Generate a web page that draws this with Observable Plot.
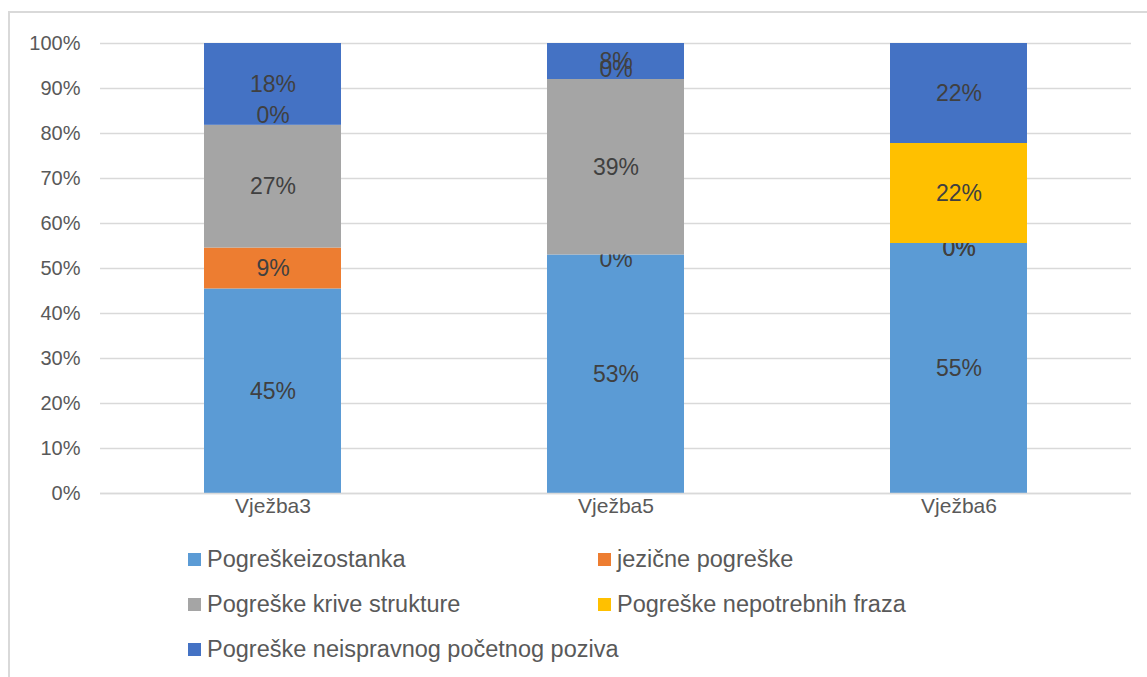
<!DOCTYPE html>
<html>
<head>
<meta charset="utf-8">
<script src="https://cdn.jsdelivr.net/npm/d3@7"></script>
<script src="https://cdn.jsdelivr.net/npm/@observablehq/plot@0.6"></script>
<style>
  html, body { margin: 0; padding: 0; background: #fff; }
  #wrap { position: relative; width: 1147px; height: 677px; overflow: hidden; font-family: "Liberation Sans", Arial, sans-serif; }
  #frame { position: absolute; left: 8px; top: 11px; width: 1200px; height: 800px; border-left: 2px solid #d9d9d9; border-top: 2px solid #d9d9d9; }
  #chart { position: absolute; left: 0; top: 0; }
  #legend { position: absolute; left: 188px; top: 537px; display: grid; grid-template-columns: 410px auto; grid-auto-rows: 45px; align-items: center; font-size: 23.5px; color: #595959; }
  .item { display: flex; align-items: center; white-space: nowrap; }
  .sw { width: 13px; height: 13px; margin-right: 6px; flex: none; }
</style>
</head>
<body>
<div id="wrap">
  <div id="frame"></div>
  <div id="chart"></div>
  <div id="legend"></div>
</div>
<script>
const exercises = ["Vježba3", "Vježba5", "Vježba6"];
const seriesNames = [
  "Pogreškeizostanka",
  "jezične pogreške",
  "Pogreške krive strukture",
  "Pogreške nepotrebnih fraza",
  "Pogreške neispravnog početnog poziva"
];
const seriesColors = ["#5B9BD5", "#ED7D31", "#A5A5A5", "#FFC000", "#4472C4"];
const izostanka = [45, 53, 55];
const jezicne = [9, 0, 0];
const kriveStrukture = [27, 39, 0];
const nepotrebnihFraza = [0, 0, 22];
const neispravnogPoziva = [18, 8, 22];
const yTicks = [0, 0.1, 0.2, 0.3, 0.4, 0.5, 0.6, 0.7, 0.8, 0.9, 1];

const seriesValues = [izostanka, jezicne, kriveStrukture, nepotrebnihFraza, neispravnogPoziva];
const rows = [];
exercises.forEach((ex, i) => {
  seriesNames.forEach((s, j) => rows.push({exercise: ex, series: s, value: seriesValues[j][i]}));
});

const stackOpts = {x: "exercise", y: "value", z: "series", order: seriesNames, offset: "normalize"};
const labelStyle = {fill: "#404040", fontSize: 23};

function bars(visible) {
  return Plot.barY(rows, Plot.stackY({...stackOpts, fill: "series", fillOpacity: d => visible(d.series) ? 1 : 0}));
}
function labels(s, zero, dy) {
  return Plot.text(rows, Plot.stackY({
    ...stackOpts,
    ...labelStyle,
    dy,
    text: d => d.series === s && (d.value === 0) === zero ? `${d.value}%` : null
  }));
}

const marks = [
  Plot.gridY(yTicks, {stroke: "#d9d9d9", strokeOpacity: 1, strokeWidth: 1.5}),
  Plot.axisY(yTicks, {tickSize: 0, tickPadding: 20, tickFormat: d3.format(".0%"), fontSize: 20, fill: "#595959", label: null}),
  Plot.axisX({tickSize: 0, tickPadding: 5, fontSize: 21, fill: "#595959", label: null})
];
// lower segments: each series' labels are drawn before the segments above it
[0, 1, 2].forEach((j) => {
  marks.push(bars(s => s === seriesNames[j]));
  marks.push(labels(seriesNames[j], false, 0));
  marks.push(labels(seriesNames[j], true, 5));
});
marks.push(bars(s => s === seriesNames[3] || s === seriesNames[4]));
[3, 4].forEach((j) => {
  marks.push(labels(seriesNames[j], false, 0));
  marks.push(labels(seriesNames[j], true, -10));
});
marks.push(Plot.ruleY([0], {stroke: "#d9d9d9", strokeWidth: 1.5}));

const chart = Plot.plot({
  width: 1147,
  height: 520,
  marginTop: 43,
  marginBottom: 27,
  marginLeft: 100,
  marginRight: 16,
  style: {fontFamily: '"Liberation Sans", Arial, sans-serif', background: "transparent", overflow: "visible"},
  x: {domain: exercises, paddingInner: 0.6, paddingOuter: 0.3, label: null},
  y: {domain: [0, 1], label: null},
  color: {domain: seriesNames, range: seriesColors},
  opacity: {domain: [0, 1], range: [0, 1]},
  marks
});
document.getElementById("chart").appendChild(chart);

const legend = document.getElementById("legend");
seriesNames.forEach((s, j) => {
  const item = document.createElement("div");
  item.className = "item";
  const sw = document.createElement("span");
  sw.className = "sw";
  sw.style.background = seriesColors[j];
  const t = document.createElement("span");
  t.textContent = s;
  item.appendChild(sw);
  item.appendChild(t);
  legend.appendChild(item);
});
</script>
</body>
</html>
